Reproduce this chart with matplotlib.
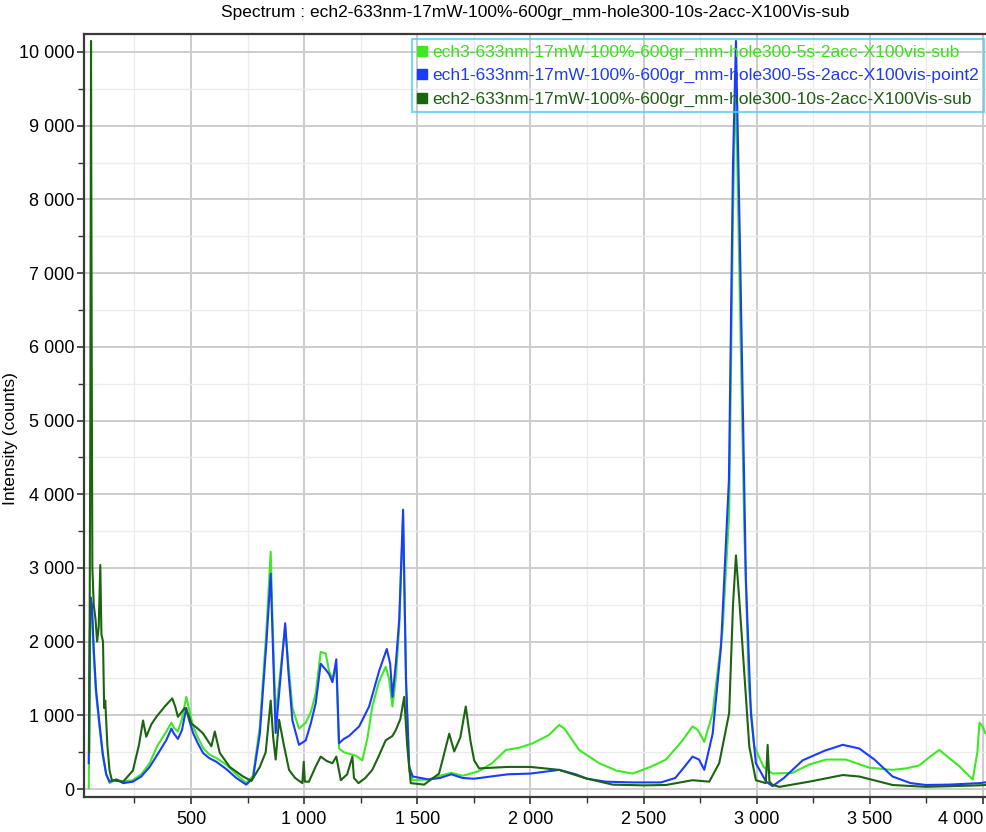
import matplotlib
matplotlib.use("Agg")
import matplotlib.pyplot as plt
from matplotlib.ticker import MultipleLocator, FuncFormatter
from matplotlib.lines import Line2D

# ---------------- data ----------------
title = "Spectrum : ech2-633nm-17mW-100%-600gr_mm-hole300-10s-2acc-X100Vis-sub"
ylabel = "Intensity (counts)"

names = [
    "ech3-633nm-17mW-100%-600gr_mm-hole300-5s-2acc-X100vis-sub",
    "ech1-633nm-17mW-100%-600gr_mm-hole300-5s-2acc-X100vis-point2",
    "ech2-633nm-17mW-100%-600gr_mm-hole300-10s-2acc-X100Vis-sub",
]

ech3_x = [48, 52, 56, 62, 70, 80, 95, 110, 125, 140, 170, 200, 243, 280, 317, 350, 391, 413, 425, 442,
          460, 479, 490, 509, 530, 553, 580, 612, 656, 700, 744, 774, 804, 833, 852, 863, 874, 895, 916,
          930, 948, 977, 1007, 1030, 1051, 1073, 1095, 1110, 1125, 1142, 1154, 1175, 1198, 1230, 1257,
          1280, 1301, 1330, 1360, 1375, 1390, 1405, 1420, 1437, 1450, 1464, 1480, 1550, 1600, 1650, 1700,
          1770, 1830, 1891, 1950, 2009, 2080, 2127, 2150, 2215, 2304, 2380, 2451, 2530, 2599, 2672, 2716,
          2740, 2768, 2805, 2849, 2878, 2895, 2907, 2920, 2945, 2965, 2989, 3030, 3070, 3158, 3230, 3306,
          3394, 3497, 3600, 3660, 3718, 3770, 3807, 3850, 3895, 3954, 3975, 3984, 3998, 4010]
ech3_y = [10, 1500, 2500, 2400, 1800, 1300, 850, 450, 200, 80, 130, 100, 120, 200, 350, 580, 780, 900, 830, 780,
          950, 1250, 1100, 850, 700, 560, 470, 420, 330, 200, 80, 180, 850, 2150, 3220, 2000, 1000, 1600, 2200,
          1700, 1100, 820, 900, 1050, 1300, 1860, 1840, 1600, 1500, 1650, 550, 500, 480, 450, 390,
          700, 1120, 1450, 1660, 1500, 1120, 1500, 2200, 3700, 1400, 250, 120, 130, 180, 220, 180,
          240, 350, 530, 560, 620, 730, 870, 820, 530, 350, 250, 210, 300, 400, 660, 850,
          800, 640, 1030, 2160, 3740, 7800, 9700, 7500, 3500, 1400, 580, 300, 210, 220, 330, 400,
          400, 290, 260, 280, 320, 450, 530, 420, 310, 130, 500, 900, 850, 760]

ech1_x = [48, 52, 56, 62, 70, 80, 95, 110, 125, 140, 170, 200, 243, 280, 317, 350, 391, 413, 425, 442,
          460, 479, 490, 509, 530, 553, 580, 612, 656, 700, 744, 774, 804, 833, 852, 863, 874, 895, 916,
          930, 948, 977, 1007, 1030, 1051, 1073, 1095, 1110, 1125, 1142, 1154, 1175, 1198, 1243, 1287,
          1331, 1365, 1380, 1390, 1405, 1420, 1437, 1450, 1464, 1480, 1550, 1600, 1650, 1700, 1750, 1800,
          1900, 2000, 2127, 2200, 2250, 2333, 2450, 2577, 2640, 2680, 2716, 2745, 2768, 2805, 2842, 2877,
          2895, 2908, 2925, 2952, 2974, 2996, 3041, 3070, 3120, 3203, 3300, 3380, 3453, 3520, 3600, 3680,
          3748, 3850, 3984, 4010]
ech1_y = [350, 2000, 2600, 2500, 1900, 1350, 900, 480, 200, 100, 130, 80, 100, 170, 300, 460, 665, 820, 750, 680,
          800, 1100, 950, 760, 620, 490, 420, 370, 270, 150, 60, 150, 750, 1980, 2920, 1800, 760, 1500, 2250,
          1600, 930, 600, 660, 900, 1165, 1700, 1620, 1560, 1450, 1760, 620, 680, 720, 850, 1120,
          1600, 1900, 1700, 1250, 1700, 2300, 3790, 1500, 300, 170, 130, 150, 200, 150, 140, 160,
          200, 210, 260, 200, 140, 100, 90, 90, 150, 300, 440, 400, 260, 750, 1930, 4200,
          8500, 10150, 7500, 2835, 1030, 350, 100, 40, 150, 390, 520, 600, 550, 400, 170, 80,
          55, 60, 80, 90]

ech2_x = [50, 55, 58, 61, 64, 70, 78, 85, 92, 99, 104, 111, 116, 121, 130, 140, 150, 200, 243, 270,
          288, 302, 325, 347, 384, 417, 430, 442, 472, 490, 501, 530, 553, 590, 605, 627, 671, 730, 767,
          804, 830, 852, 863, 874, 889, 910, 933, 960, 992, 998, 1003, 1021, 1050, 1073, 1100, 1125, 1142,
          1162, 1190, 1213, 1220, 1240, 1270, 1301, 1330, 1360, 1390, 1405, 1425, 1442, 1455, 1471, 1530,
          1596, 1641, 1663, 1690, 1714, 1735, 1751, 1773, 1900, 2000, 2127, 2245, 2363, 2500, 2599, 2716,
          2790, 2834, 2878, 2895, 2908, 2922, 2937, 2967, 2996, 3040, 3048, 3056, 3070, 3100, 3232, 3380,
          3453, 3530, 3600, 3748, 3984, 4010]
ech2_y = [500, 5000, 10150, 6000, 3000, 2500, 2300, 2000, 2200, 3040, 2100, 2000, 1100, 1200, 600, 250, 120, 100, 250, 600,
          930, 710, 880, 980, 1120, 1230, 1120, 980, 1100, 1000, 890, 820, 755, 580, 780, 490, 300, 170, 110,
          300, 500, 1200, 700, 400, 940, 600, 260, 150, 80, 370, 100, 100, 300, 440, 380, 350, 440,
          120, 200, 440, 150, 80, 150, 260, 450, 660, 720, 800, 950, 1250, 600, 80, 60,
          210, 750, 510, 700, 1120, 650, 390, 280, 300, 300, 260, 145, 60, 50, 55, 120,
          100, 350, 1030, 2500, 3170, 2600, 1930, 575, 120, 80, 600, 100, 55, 30, 100, 190,
          170, 110, 55, 30, 50, 55]

series_x = [ech3_x, ech1_x, ech2_x]
series_y = [ech3_y, ech1_y, ech2_y]
colors = ["#3fe824", "#1a3cff", "#1b6410"]
text_colors = ["#3ae01c", "#1f3bf0", "#1d5e10"]

# ---------------- figure ----------------
plt.rcParams['font.family'] = ['Liberation Sans', 'DejaVu Sans']
fig = plt.figure(figsize=(9.87, 8.32), dpi=100)
ax = fig.add_axes([84/987, 1-797/832, (986-84)/987, (797-34)/832])

for xs, ys, c in zip(series_x, series_y, colors):
    ax.plot(xs, ys, color=c, lw=1.5, solid_joinstyle='round')

ax.set_xlim(27, 4013)
ax.set_ylim(-108, 10244)

ax.xaxis.set_major_locator(MultipleLocator(500))
ax.xaxis.set_minor_locator(MultipleLocator(250))
ax.yaxis.set_major_locator(MultipleLocator(1000))
ax.yaxis.set_minor_locator(MultipleLocator(500))
fmt = FuncFormatter(lambda v, p: f"{int(round(v)):,}".replace(",", " "))
ax.xaxis.set_major_formatter(fmt)
ax.yaxis.set_major_formatter(fmt)

ax.grid(which='major', color='#cccccc', lw=1.4)
ax.grid(which='minor', color='#ececec', lw=1.0)
ax.set_axisbelow(True)

ax.tick_params(axis='both', which='major', direction='out', length=5, width=1.2,
               colors='#333333', labelcolor='black', labelsize=13)
ax.tick_params(axis='y', which='major', pad=2)
ax.tick_params(axis='x', which='major', pad=5)
ax.tick_params(axis='both', which='minor', direction='out', length=4, width=1.0, colors='#333333')
for s in ['left', 'bottom', 'top']:
    ax.spines[s].set_color('#3a3a3a')
    ax.spines[s].set_linewidth(1.6)
ax.spines['right'].set_visible(False)

ax.set_ylabel(ylabel, fontsize=12.5)
ax.yaxis.set_label_coords(-0.073, 0.47)
ax.set_title(title, fontsize=12.5, pad=12)

handles = [Line2D([], [], marker='s', color=c, linestyle='none', markersize=7) for c in colors]
leg = ax.legend(handles, names, loc='upper right', bbox_to_anchor=(0.9975, 0.993),
                borderaxespad=0, fontsize=12.5, frameon=True, fancybox=False,
                handlelength=0.6, handletextpad=0.25, borderpad=0.3, labelspacing=0.48)
leg.get_frame().set_facecolor('none')
leg.get_frame().set_edgecolor('#55ccf2')
leg.get_frame().set_linewidth(1.5)
for t, c in zip(leg.get_texts(), text_colors):
    t.set_color(c)

fig.canvas.draw()
for lab in ax.get_xticklabels():
    if lab.get_text() == "4 000":
        lab.set_horizontalalignment('right')
        lab.set_x(lab.get_position()[0] + 8)

fig.savefig("out.png", dpi=100)
